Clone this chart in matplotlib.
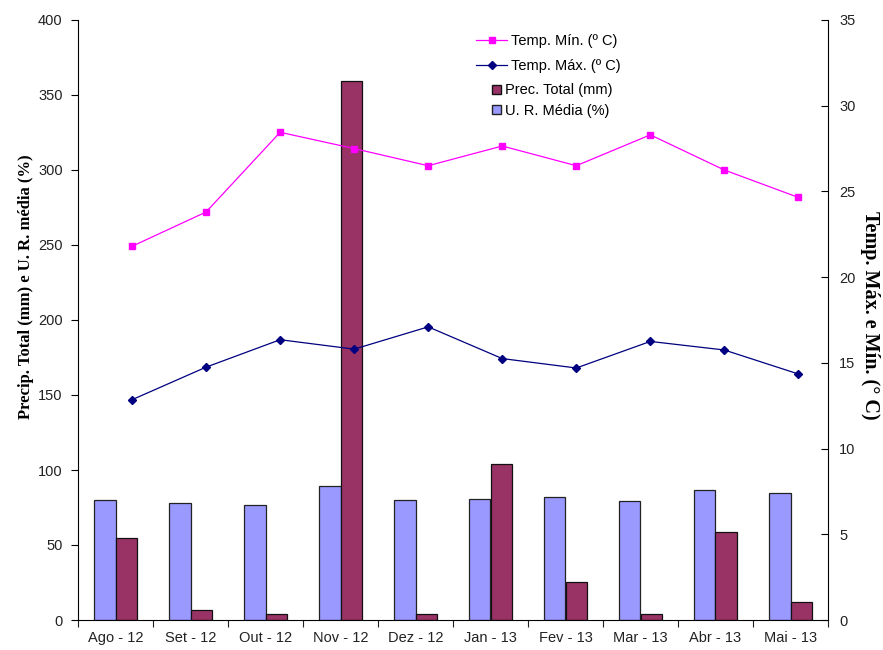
import matplotlib.pyplot as plt
from matplotlib.lines import Line2D
from matplotlib.patches import Patch
import numpy as np

meses = ['Ago - 12', 'Set - 12', 'Out - 12', 'Nov - 12', 'Dez - 12',
         'Jan - 13', 'Fev - 13', 'Mar - 13', 'Abr - 13', 'Mai - 13']
umidade = [80, 78, 77, 89.5, 80, 80.5, 82, 79.5, 86.5, 85]          # U. R. média (%)
precip = [54.5, 6.7, 3.8, 359, 3.8, 104, 25.6, 3.8, 58.4, 12]       # Prec. total (mm)
temp_min = [21.8, 23.8, 28.45, 27.5, 26.5, 27.65, 26.5, 28.3, 26.25, 24.65]
temp_max = [12.85, 14.75, 16.35, 15.8, 17.1, 15.25, 14.7, 16.25, 15.75, 14.35]

plt.rcParams['font.family'] = ['Liberation Sans', 'DejaVu Sans']
fs = 10.5

fig = plt.figure(figsize=(8.83, 6.5), dpi=100)
rect = [78/883, 30/650, 750/883, 600/650]
ax = fig.add_axes(rect)

x = np.arange(len(meses))
w = 0.287
ax.bar(x - w/2, umidade, w, color='#9999FF', edgecolor='#222222', linewidth=0.9, zorder=2)
ax.bar(x + w/2, precip, w, color='#993366', edgecolor='#111111', linewidth=0.9, zorder=2)

ax.set_xlim(-0.5, len(meses) - 0.5)
ax.set_ylim(0, 400)
ax.set_yticks(range(0, 401, 50))
ax.set_xticks(np.arange(-0.5, len(meses)), labels=[])
ax.set_xticks(x, labels=meses, minor=True)
ax.tick_params(axis='x', which='major', length=5, color='#222222')
ax.tick_params(axis='x', which='minor', length=0, pad=8, labelsize=fs, labelcolor='#222222')
ax.tick_params(axis='y', length=5, labelsize=fs, labelcolor='#222222', pad=6)
ax.spines['top'].set_visible(False)
ax.spines['right'].set_visible(False)
ax.set_ylabel('Precip. Total (mm) e U. R. média (%)', family='Liberation Serif',
              fontweight='bold', fontsize=12)
ax.yaxis.set_label_coords(-0.058, 0.555)

# temperaturas num segundo eixo, com escala propria
ax2 = fig.add_axes(rect, facecolor='none')
ax2.plot(x, temp_min, '-s', color='#FF00FF', lw=0.9, ms=5, label='Temp. Mín. (º C)')
ax2.plot(x, temp_max, '-D', color='#000080', lw=0.9, ms=4, label='Temp. Máx. (º C)')
ax2.set_xlim(-0.73, 9.40)
ax2.set_ylim(0, 35)
ax2.set_yticks(range(0, 36, 5))
ax2.xaxis.set_visible(False)
ax2.yaxis.tick_right()
ax2.yaxis.set_label_position('right')
for s in ['top', 'left', 'bottom']:
    ax2.spines[s].set_visible(False)
ax2.tick_params(axis='y', direction='in', length=5, labelsize=fs, labelcolor='#222222', pad=8)
ax2.set_ylabel('Temp. Máx. e Mín. (° C)', family='Liberation Serif', fontweight='bold',
               fontsize=14.5, rotation=270)
ax2.yaxis.set_label_coords(1.069, 0.507)

linhas = [Line2D([], [], color='#FF00FF', lw=0.9, marker='s', ms=5),
          Line2D([], [], color='#000080', lw=0.9, marker='D', ms=4)]
leg1 = ax2.legend(linhas, ['Temp. Mín. (º C)', 'Temp. Máx. (º C)'], frameon=False,
                  loc='upper left', bbox_to_anchor=(469/883, 1 - 27/650),
                  bbox_transform=fig.transFigure, fontsize=fs, handlelength=2.1,
                  handletextpad=0.3, labelspacing=0.75, borderpad=0)
ax2.add_artist(leg1)
barras = [Patch(facecolor='#993366', edgecolor='#111111'),
          Patch(facecolor='#9999FF', edgecolor='#222222')]
ax2.legend(barras, ['Prec. Total (mm)', 'U. R. Média (%)'], frameon=False,
           loc='upper left', bbox_to_anchor=(485/883, 1 - 76/650),
           bbox_transform=fig.transFigure, fontsize=fs, handlelength=0.6,
           handleheight=0.6, handletextpad=0.25, labelspacing=0.45, borderpad=0)

fig.savefig('out.png', dpi=100)
